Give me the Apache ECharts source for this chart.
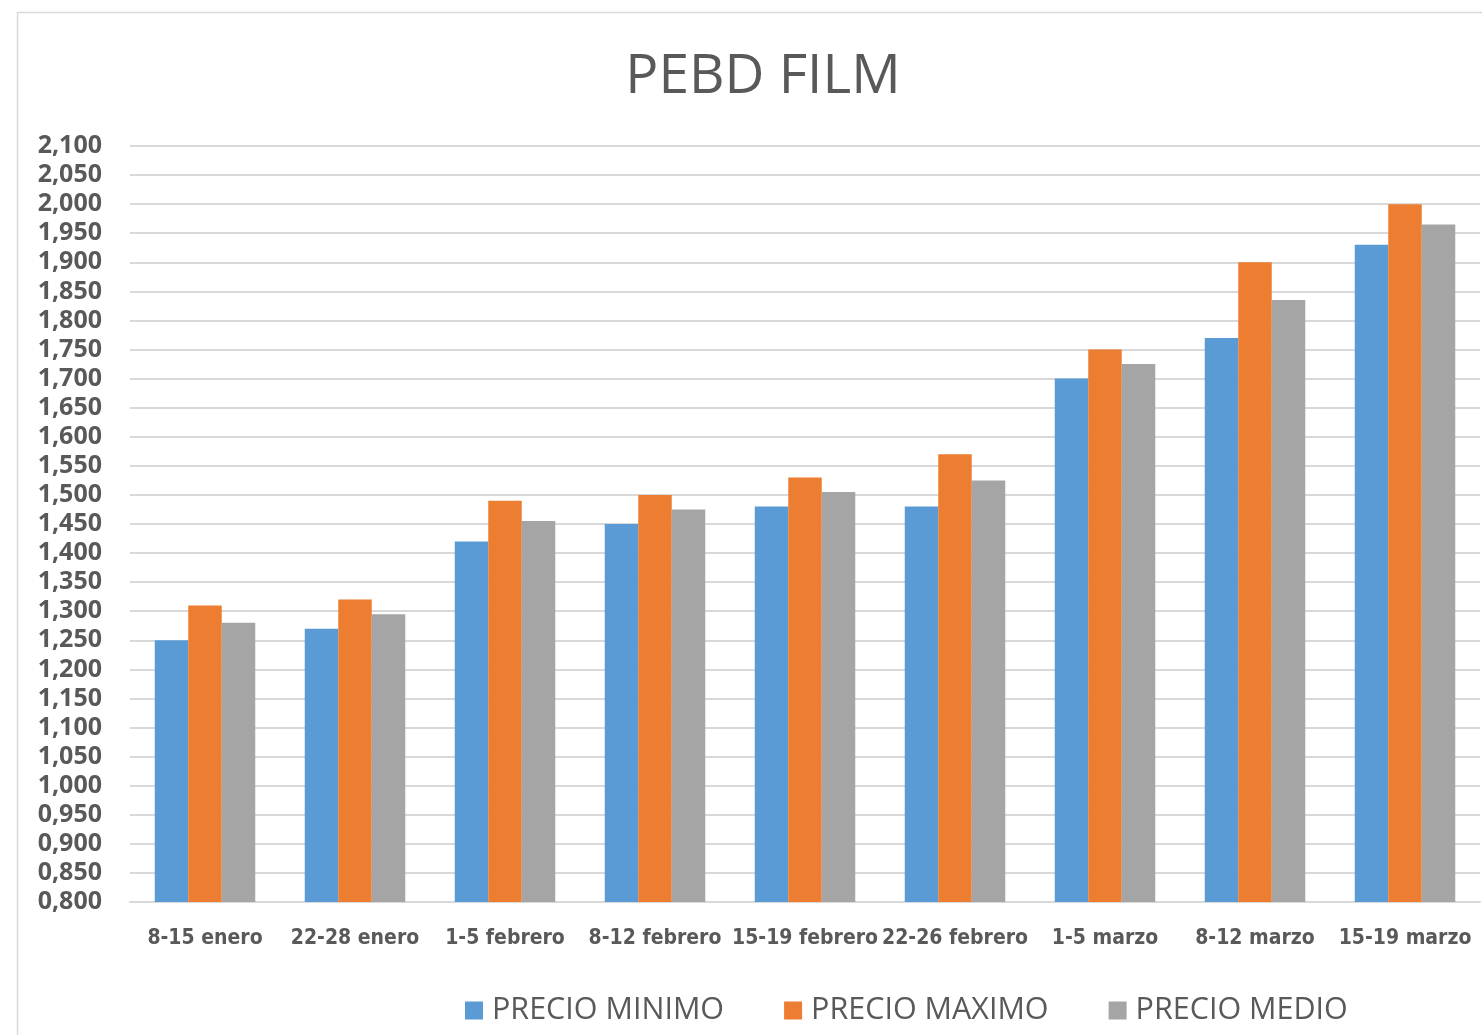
<!DOCTYPE html>
<html><head><meta charset="utf-8">
<script src="https://cdn.jsdelivr.net/npm/echarts@6/dist/echarts.min.js"></script>
<style>html,body{margin:0;padding:0;background:#fff}#c{width:1482px;height:1035px}</style>
</head><body><div id="c"></div>
<script>
const categories = ['8-15 enero','22-28 enero','1-5 febrero','8-12 febrero','15-19 febrero','22-26 febrero','1-5 marzo','8-12 marzo','15-19 marzo'];
const precioMinimo = [1.250,1.270,1.420,1.450,1.480,1.480,1.700,1.770,1.930];
const precioMaximo = [1.310,1.320,1.490,1.500,1.530,1.570,1.750,1.900,2.000];
const precioMedio  = [1.280,1.295,1.455,1.475,1.505,1.525,1.725,1.835,1.965];
const seriesNames = ['PRECIO MINIMO','PRECIO MAXIMO','PRECIO MEDIO'];
const colors = ['#5B9BD5','#ED7D31','#A5A5A5'];

const chart = echarts.init(document.getElementById('c'));
chart.setOption({
  animation:false,
  graphic:[{type:'rect',shape:{x:17.5,y:12.5,width:1600,height:1200},style:{fill:'none',stroke:'#d9d9d9',lineWidth:1.5},silent:true}],
  title:{text:'PEBD FILM',left:758,top:45,textAlign:'center',textStyle:{fontFamily:'Open Sans',fontWeight:'normal',fontSize:55,color:'#595959'}},
  legend:{top:990,left:460,itemWidth:18,itemHeight:18,itemGap:60,icon:'rect',
    textStyle:{fontFamily:'Open Sans',fontSize:30.5,color:'#595959',padding:[0,0,0,4]}},
  grid:{left:130,right:2,top:146,bottom:133},
  xAxis:{type:'category',data:categories,
    axisLine:{show:true,lineStyle:{color:'#d9d9d9',width:2}},axisTick:{show:false},
    axisLabel:{interval:0,margin:26,fontFamily:"'DejaVu Sans Condensed','Liberation Sans',sans-serif",fontWeight:'bold',fontSize:21,color:'#595959'}},
  yAxis:{type:'value',min:0.8,max:2.1,interval:0.05,
    axisLine:{show:false},axisTick:{show:false},
    splitLine:{lineStyle:{color:'#d9d9d9',width:2}},
    axisLabel:{margin:28,fontFamily:'Open Sans',fontWeight:'bold',fontSize:25,color:'#595959',
      formatter:v=>v.toFixed(3).replace('.',',')}},
  series:[
    {name:seriesNames[0],type:'bar',data:precioMinimo,itemStyle:{color:colors[0]},barGap:'0%',barCategoryGap:'33%'},
    {name:seriesNames[1],type:'bar',data:precioMaximo,itemStyle:{color:colors[1]},barGap:'0%',barCategoryGap:'33%'},
    {name:seriesNames[2],type:'bar',data:precioMedio,itemStyle:{color:colors[2]},barGap:'0%',barCategoryGap:'33%'}
  ]
});
</script></body></html>
